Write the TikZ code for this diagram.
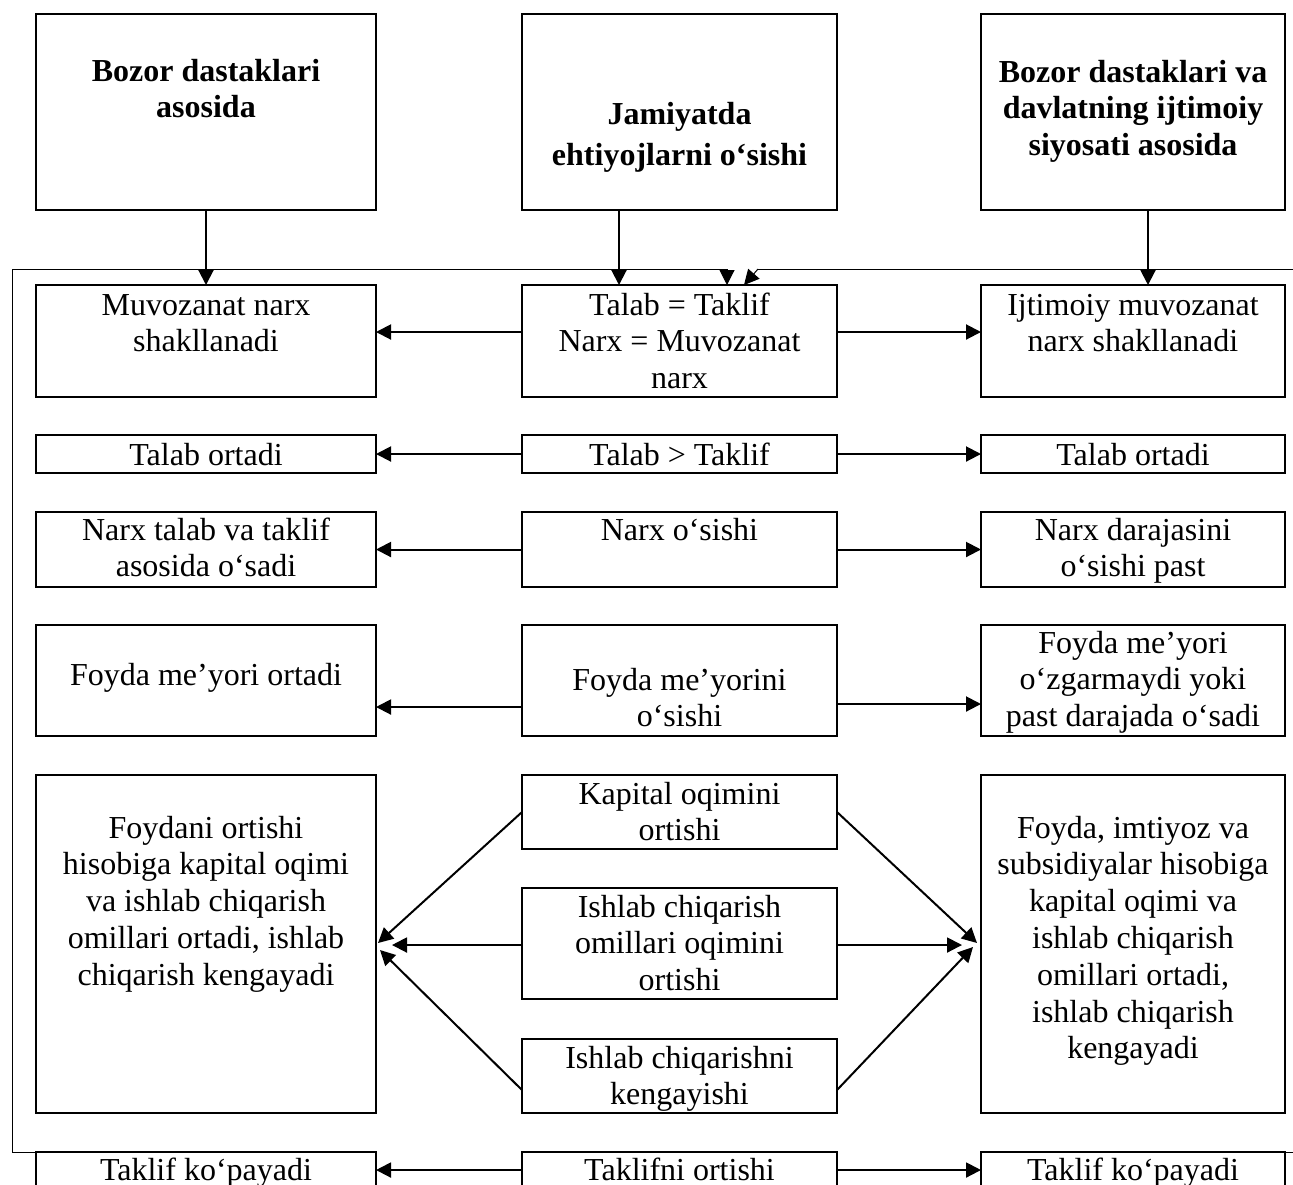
\documentclass[tikz,border=0pt]{standalone}
\usepackage{fontspec}
\setmainfont{Liberation Serif}
\usetikzlibrary{arrows.meta}
\newcommand{\bx}[7]{\node[boxst] (#1) at (#2,#3) {\parbox[c][\dimexpr(#5pt-#3pt)/2\relax][t]{\dimexpr(#4pt-#2pt)/2\relax}{\centering\rule{0pt}{\dimexpr#6pt/2\relax}#7}};}
\begin{document}
\begin{tikzpicture}[x=0.5pt,y=-0.5pt,
  every node/.style={font=\fontsize{16pt}{18.4pt}\selectfont},
  boxst/.style={draw, line width=1.1pt, inner sep=0pt, outer sep=0pt, anchor=north west},
  arr/.style={line width=1pt, -{Triangle[length=7.5pt,width=7.5pt]}},
  fb/.style={line width=0.5pt},
  fbarr/.style={line width=0.5pt, -{Triangle[length=7.5pt,width=7.5pt]}}]
\useasboundingbox (0,0) rectangle (1293,1184);
\clip (0,0) rectangle (1293,1184);
% top row
\bx{tA}{36}{14}{376}{210}{67}{\bfseries Bozor dastaklari\\asosida}
\bx{tB}{522}{14}{837}{210}{110}{\bfseries Jamiyatda\\[2.1pt]ehtiyojlarni o‘sishi}
\bx{tC}{981}{14}{1285}{210}{68}{\bfseries Bozor dastaklari va\\davlatning ijtimoiy\\siyosati asosida}
% row 1
\bx{aL}{36}{285}{376}{397}{30}{Muvozanat narx\\shakllanadi}
\bx{aM}{522}{285}{837}{397}{30}{Talab = Taklif\\Narx = Muvozanat\\narx}
\bx{aR}{981}{285}{1285}{397}{30}{Ijtimoiy muvozanat\\narx shakllanadi}
% row 2
\bx{bL}{36}{435}{376}{473}{30}{Talab ortadi}
\bx{bM}{522}{435}{837}{473}{30}{Talab > Taklif}
\bx{bR}{981}{435}{1285}{473}{30}{Talab ortadi}
% row 3
\bx{cL}{36}{512}{376}{587}{28}{Narx talab va taklif\\asosida o‘sadi}
\bx{cM}{522}{512}{837}{587}{28}{Narx o‘sishi}
\bx{cR}{981}{512}{1285}{587}{28}{Narx darajasini\\o‘sishi past}
% row 4
\bx{dL}{36}{625}{376}{736}{60}{Foyda me’yori ortadi}
\bx{dM}{522}{625}{837}{736}{65}{Foyda me’yorini\\o‘sishi}
\bx{dR}{981}{625}{1285}{736}{28}{Foyda me’yori\\o‘zgarmaydi yoki\\past darajada o‘sadi}
% row 5
\bx{eL}{36}{775}{376}{1113}{63}{Foydani ortishi\\hisobiga kapital oqimi\\va ishlab chiqarish\\omillari ortadi, ishlab\\chiqarish kengayadi}
\bx{eR}{981}{775}{1285}{1113}{63}{Foyda, imtiyoz va\\subsidiyalar hisobiga\\kapital oqimi va\\ishlab chiqarish\\omillari ortadi,\\ishlab chiqarish\\kengayadi}
\bx{m1}{522}{775}{837}{849}{29}{Kapital oqimini\\ortishi}
\bx{m2}{522}{888}{837}{999}{29}{Ishlab chiqarish\\omillari oqimini\\ortishi}
\bx{m3}{522}{1039}{837}{1113}{29}{Ishlab chiqarishni\\kengayishi}
% row 6
\bx{fL}{36}{1152}{376}{1210}{28}{Taklif ko‘payadi}
\bx{fM}{522}{1152}{837}{1210}{28}{Taklifni ortishi}
\bx{fR}{981}{1152}{1285}{1210}{28}{Taklif ko‘payadi}
% helper coordinates
\coordinate (xm) at (619,0);
\coordinate (xr) at (1148,0);
\coordinate (y1) at (0,332);
\coordinate (y4l) at (0,707);
\coordinate (y4r) at (0,704);
\coordinate (y5a) at (0,812);
\coordinate (y5b) at (0,945);
\coordinate (y5c) at (0,1090);
\coordinate (y6) at (0,1170);
\coordinate (pL1) at (378,943);
\coordinate (pL2) at (392,945);
\coordinate (pL3) at (380,950);
\coordinate (pR1) at (977,943);
\coordinate (pR2) at (962,945);
\coordinate (pR3) at (973,947);
\coordinate (fbL) at (12,269);
\coordinate (fbT) at (727,269);
\coordinate (fbR) at (1294,269);
\coordinate (fbR2) at (758,269);
\coordinate (fbTip) at (744,285);
% top arrows
\draw[arr] (tA.south) -- (aL.north);
\draw[arr] (tB.south -| xm) -- (aM.north -| xm);
\draw[arr] (tC.south -| xr) -- (aR.north -| xr);
% horizontal arrows
\draw[arr] (aM.west |- y1) -- (aL.east |- y1);
\draw[arr] (aM.east |- y1) -- (aR.west |- y1);
\draw[arr] (bM.west) -- (bL.east);
\draw[arr] (bM.east) -- (bR.west);
\draw[arr] (cM.west) -- (cL.east);
\draw[arr] (cM.east) -- (cR.west);
\draw[arr] (dM.west |- y4l) -- (dL.east |- y4l);
\draw[arr] (dM.east |- y4r) -- (dR.west |- y4r);
\draw[arr] (m1.west |- y5a) -- (pL1);
\draw[arr] (m2.west |- y5b) -- (pL2);
\draw[arr] (m3.west |- y5c) -- (pL3);
\draw[arr] (m1.east |- y5a) -- (pR1);
\draw[arr] (m2.east |- y5b) -- (pR2);
\draw[arr] (m3.east |- y5c) -- (pR3);
\draw[arr] (fM.west |- y6) -- (fL.east |- y6);
\draw[arr] (fM.east |- y6) -- (fR.west |- y6);
% feedback lines
\draw[fb] (fL.north west) -| (fbL) -- (fbT);
\draw[fbarr] (fbT) -- (aM.north -| fbT);
\draw[fb] (fR.north east) -| (fbR) -- (fbR2);
\draw[fbarr] (fbR2) -- (fbTip);
\end{tikzpicture}
\end{document}
